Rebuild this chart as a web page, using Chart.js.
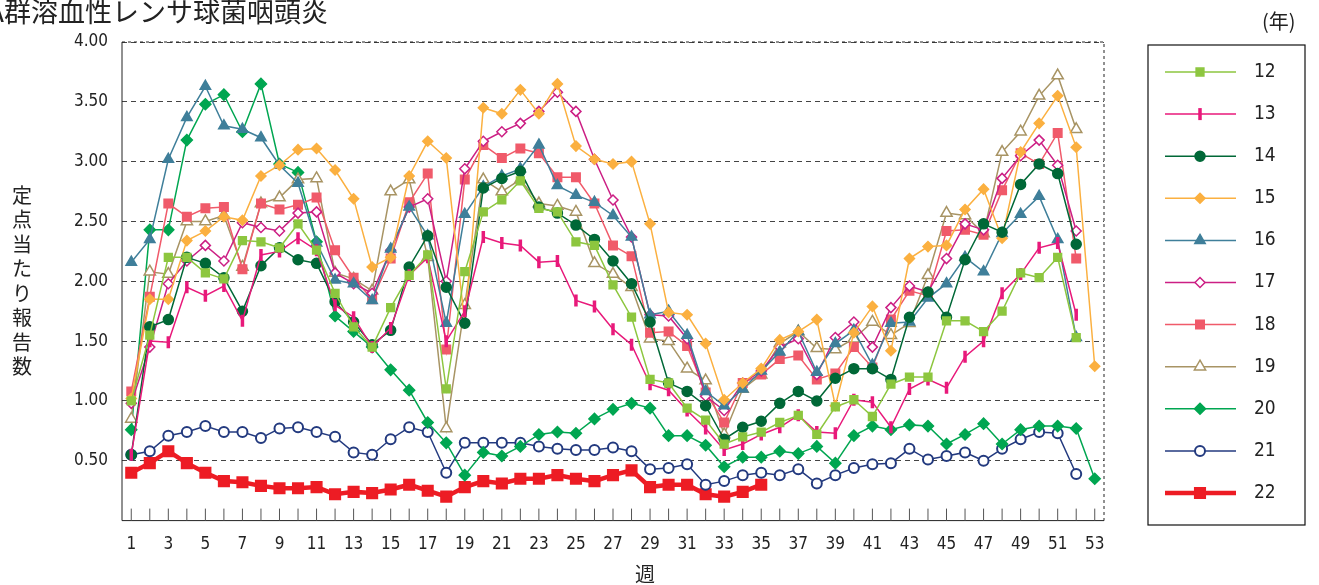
<!DOCTYPE html>
<html><head><meta charset="utf-8">
<script src="https://cdn.jsdelivr.net/npm/chart.js@4"></script>
<style>body{margin:0;background:#fff}#wrap{width:1319px;height:585px}</style>
</head><body><div id="wrap"><canvas id="c"></canvas></div>
<script>
const weeks = Array.from({length: 53}, (_, i) => String(i + 1));
const yTicks = [0.5, 1, 1.5, 2, 2.5, 3, 3.5, 4];

const y12 = [1.00,1.55,2.20,2.20,2.07,2.02,2.34,2.33,2.28,2.48,2.26,1.90,1.62,1.45,1.78,2.05,2.22,1.10,2.08,2.58,2.68,2.84,2.61,2.58,2.33,2.30,1.97,1.70,1.18,1.15,0.94,0.84,0.64,0.70,0.74,0.82,0.88,0.72,0.95,1.01,0.87,1.14,1.20,1.20,1.67,1.67,1.58,1.75,2.07,2.03,2.20,1.53];
const y13 = [0.55,1.50,1.49,1.95,1.88,1.96,1.67,2.22,2.25,2.36,2.26,1.80,1.70,1.45,1.61,2.05,2.20,1.50,1.75,2.37,2.32,2.30,2.16,2.17,1.84,1.79,1.60,1.47,1.14,1.09,0.92,0.77,0.59,0.64,0.72,0.78,0.88,0.74,0.73,1.01,0.99,0.78,1.10,1.18,1.11,1.37,1.50,1.90,2.06,2.28,2.32,1.72];
const y14 = [0.55,1.62,1.68,2.20,2.15,2.03,1.75,2.13,2.28,2.18,2.15,1.83,1.66,1.47,1.59,2.12,2.38,1.95,1.65,2.78,2.86,2.92,2.62,2.57,2.47,2.35,2.17,1.98,1.66,1.15,1.08,0.96,0.68,0.78,0.83,0.98,1.08,1.00,1.19,1.27,1.27,1.18,1.70,1.91,1.70,2.18,2.48,2.41,2.81,2.98,2.90,2.31];
const y15 = [1.02,1.85,1.85,2.34,2.42,2.54,2.51,2.88,2.97,3.10,3.11,2.93,2.69,2.12,2.20,2.88,3.17,3.03,1.65,3.45,3.40,3.60,3.40,3.65,3.13,3.02,2.98,3.00,2.48,1.74,1.72,1.48,1.01,1.15,1.27,1.51,1.58,1.68,0.96,1.57,1.79,1.42,2.19,2.29,2.30,2.60,2.77,2.36,3.08,3.32,3.55,3.12,1.29];
const y16 = [2.16,2.35,3.02,3.37,3.63,3.30,3.27,3.20,2.97,2.82,2.32,2.01,1.98,1.84,2.27,2.62,2.38,1.65,2.56,2.79,2.88,2.94,3.14,2.80,2.72,2.66,2.55,2.37,1.72,1.75,1.55,1.08,0.96,1.10,1.25,1.41,1.58,1.24,1.48,1.59,1.30,1.65,1.66,1.86,1.98,2.20,2.08,2.40,2.56,2.71,2.35,1.53];
const y17 = [0.98,1.45,1.98,2.17,2.30,2.17,2.49,2.45,2.42,2.57,2.58,2.07,1.98,1.90,2.26,2.62,2.69,2.00,2.94,3.17,3.25,3.32,3.42,3.58,3.42,3.02,2.68,2.37,1.72,1.71,1.52,1.04,0.92,1.15,1.25,1.45,1.52,1.22,1.53,1.66,1.45,1.78,1.96,1.91,2.19,2.48,2.43,2.86,3.05,3.18,2.97,2.42];
const y18 = [1.08,1.87,2.65,2.54,2.61,2.62,2.10,2.65,2.60,2.64,2.70,2.26,2.03,1.85,2.19,2.66,2.90,1.43,2.85,3.14,3.03,3.11,3.07,2.87,2.87,2.65,2.30,2.21,1.57,1.58,1.46,1.07,0.82,1.15,1.22,1.35,1.38,1.18,1.23,1.45,1.28,1.68,1.92,1.88,2.42,2.43,2.39,2.76,3.07,2.98,3.24,2.19];
const y19 = [0.85,2.08,2.06,2.50,2.50,2.55,2.12,2.65,2.70,2.85,2.86,2.07,2.02,1.92,2.75,2.85,2.20,0.77,1.80,2.85,2.75,2.85,2.65,2.63,2.58,2.15,2.06,1.95,1.52,1.50,1.27,1.17,0.72,1.10,1.22,1.48,1.58,1.44,1.43,1.52,1.66,1.55,1.65,2.05,2.57,2.55,2.40,3.08,3.25,3.55,3.72,3.27];
const y20 = [0.76,2.43,2.43,3.18,3.48,3.56,3.25,3.65,2.98,2.91,2.33,1.71,1.58,1.45,1.26,1.09,0.82,0.65,0.38,0.57,0.54,0.62,0.72,0.74,0.73,0.85,0.93,0.98,0.94,0.71,0.71,0.63,0.45,0.53,0.53,0.58,0.56,0.62,0.48,0.71,0.79,0.76,0.80,0.79,0.64,0.72,0.81,0.64,0.76,0.79,0.79,0.77,0.35];
const y21 = [0.55,0.58,0.71,0.74,0.79,0.74,0.74,0.69,0.77,0.78,0.74,0.70,0.57,0.55,0.68,0.78,0.74,0.40,0.65,0.65,0.65,0.65,0.62,0.60,0.59,0.59,0.61,0.58,0.43,0.44,0.47,0.30,0.33,0.38,0.40,0.38,0.43,0.31,0.38,0.44,0.47,0.48,0.60,0.51,0.54,0.57,0.50,0.60,0.68,0.74,0.73,0.39];
const y22 = [0.40,0.48,0.58,0.48,0.40,0.33,0.32,0.29,0.27,0.27,0.28,0.22,0.24,0.23,0.26,0.30,0.25,0.20,0.28,0.33,0.31,0.35,0.35,0.38,0.35,0.33,0.38,0.42,0.28,0.30,0.30,0.22,0.20,0.24,0.30];

const FONT = '"Liberation Sans Narrow", "DejaVu Sans Condensed", sans-serif';

function ds(label, data, color, style, opts) {
  return Object.assign({
    label, data, borderColor: color, backgroundColor: color,
    pointBorderColor: color, pointBackgroundColor: color,
    pointStyle: style, pointRadius: 5, borderWidth: 1.5, pointBorderWidth: 1.5,
    tension: 0, spanGaps: false
  }, opts || {});
}

const datasets = [
  ds('12', y12, '#8dc63f', 'rect', {pointRadius: 5.5}),
  ds('13', y13, '#e8197a', 'line', {pointRotation: 90, pointRadius: 6, pointBorderWidth: 3.5}),
  ds('14', y14, '#006837', 'circle', {pointRadius: 5}),
  ds('15', y15, '#fbb040', 'rectRot', {pointRadius: 5}),
  ds('16', y16, '#3f7f9a', 'triangle', {pointRadius: 6}),
  ds('17', y17, '#cc1f84', 'rectRot', {pointRadius: 5, pointBackgroundColor: '#fff'}),
  ds('18', y18, '#f05a6a', 'rect', {pointRadius: 6}),
  ds('19', y19, '#a89464', 'triangle', {pointRadius: 6.5, pointBackgroundColor: '#fff'}),
  ds('20', y20, '#00a651', 'rectRot', {pointRadius: 5.5}),
  ds('21', y21, '#233a7f', 'circle', {pointRadius: 5, pointBackgroundColor: '#fff', pointBorderWidth: 2}),
  ds('22', y22, '#ed1c24', 'rect', {pointRadius: 7.5, borderWidth: 4.5})
];

const deco = {
  id: 'deco',
  afterDraw(chart) {
    const {ctx, chartArea: a, scales} = chart;
    ctx.save();
    // frame
    ctx.strokeStyle = '#222'; ctx.lineWidth = 1;
    ctx.setLineDash([3, 3]);
    ctx.beginPath(); ctx.moveTo(a.left, a.top); ctx.lineTo(a.right, a.top); ctx.lineTo(a.right, a.bottom); ctx.stroke();
    ctx.setLineDash([]);
    ctx.beginPath(); ctx.moveTo(a.left, a.top); ctx.lineTo(a.left, a.bottom); ctx.lineTo(a.right, a.bottom); ctx.stroke();
    // inner x ticks
    ctx.strokeStyle = '#555';
    weeks.forEach((w, i) => {
      const x = scales.x.getPixelForValue(i);
      ctx.beginPath(); ctx.moveTo(x, a.bottom); ctx.lineTo(x, a.bottom - 12); ctx.stroke();
    });
    // title
    ctx.fillStyle = '#222';
    ctx.font = '27px "Noto Sans CJK JP"';
    ctx.textBaseline = 'middle'; ctx.textAlign = 'left';
    const t = 'A群溶血性レンサ球菌咽頭炎';
    ctx.fillText(t, 4 - ctx.measureText('A').width, 12);
    ctx.font = '20px "Noto Sans CJK JP"';
    ctx.fillText('(年)', 1262, 21);
    // y title stacked
    ctx.textAlign = 'center';
    const yt = '定点当たり報告数';
    ctx.font = '20px "Noto Sans CJK JP"';
    [...yt].forEach((ch, i) => ctx.fillText(ch, 22, 195 + i * 24.5));
    ctx.fillText('週', 645, 574);
    // legend
    ctx.strokeStyle = '#111'; ctx.lineWidth = 1.2;
    ctx.strokeRect(1148, 45, 157, 480);
    chart.data.datasets.forEach((d, i) => {
      const y = 72 + i * 42.1;
      ctx.strokeStyle = d.borderColor; ctx.lineWidth = d.borderWidth;
      ctx.beginPath(); ctx.moveTo(1165, y); ctx.lineTo(1236, y); ctx.stroke();
      ctx.fillStyle = d.pointBackgroundColor; ctx.strokeStyle = d.pointBorderColor;
      ctx.lineWidth = d.pointBorderWidth;
      Chart.helpers.drawPoint(ctx, {pointStyle: d.pointStyle, radius: d.pointRadius, rotation: d.pointRotation || 0, borderWidth: d.pointBorderWidth}, 1200, y);
      ctx.fillStyle = '#222'; ctx.font = '19px ' + FONT; ctx.textAlign = 'left';
      ctx.fillText(d.label, 1254, y);
    });
    ctx.restore();
  }
};

new Chart(document.getElementById('c'), {
  type: 'line',
  data: {labels: weeks, datasets},
  options: {
    responsive: true, maintainAspectRatio: false, animation: false,
    layout: {padding: {left: 0, right: 215, top: 42, bottom: 24}},
    plugins: {legend: {display: false}, tooltip: {enabled: false}},
    scales: {
      x: {
        offset: true,
        grid: {display: false},
        border: {display: false},
        ticks: {
          color: '#222', font: {family: FONT, size: 17}, maxRotation: 0, autoSkip: false, padding: 6,
          callback: (v, i) => (i % 2 === 0 ? weeks[i] : '')
        }
      },
      y: {
        min: 0, max: 4,
        afterBuildTicks: s => { s.ticks = yTicks.map(v => ({value: v})); },
        afterFit: s => { s.width = 122; },
        border: {display: false, dash: [5, 4]},
        grid: {color: '#444', drawTicks: false, lineWidth: 1},
        ticks: {color: '#222', font: {family: FONT, size: 17}, padding: 14, callback: v => v.toFixed(2)}
      }
    }
  },
  plugins: [deco]
});
</script></body></html>
